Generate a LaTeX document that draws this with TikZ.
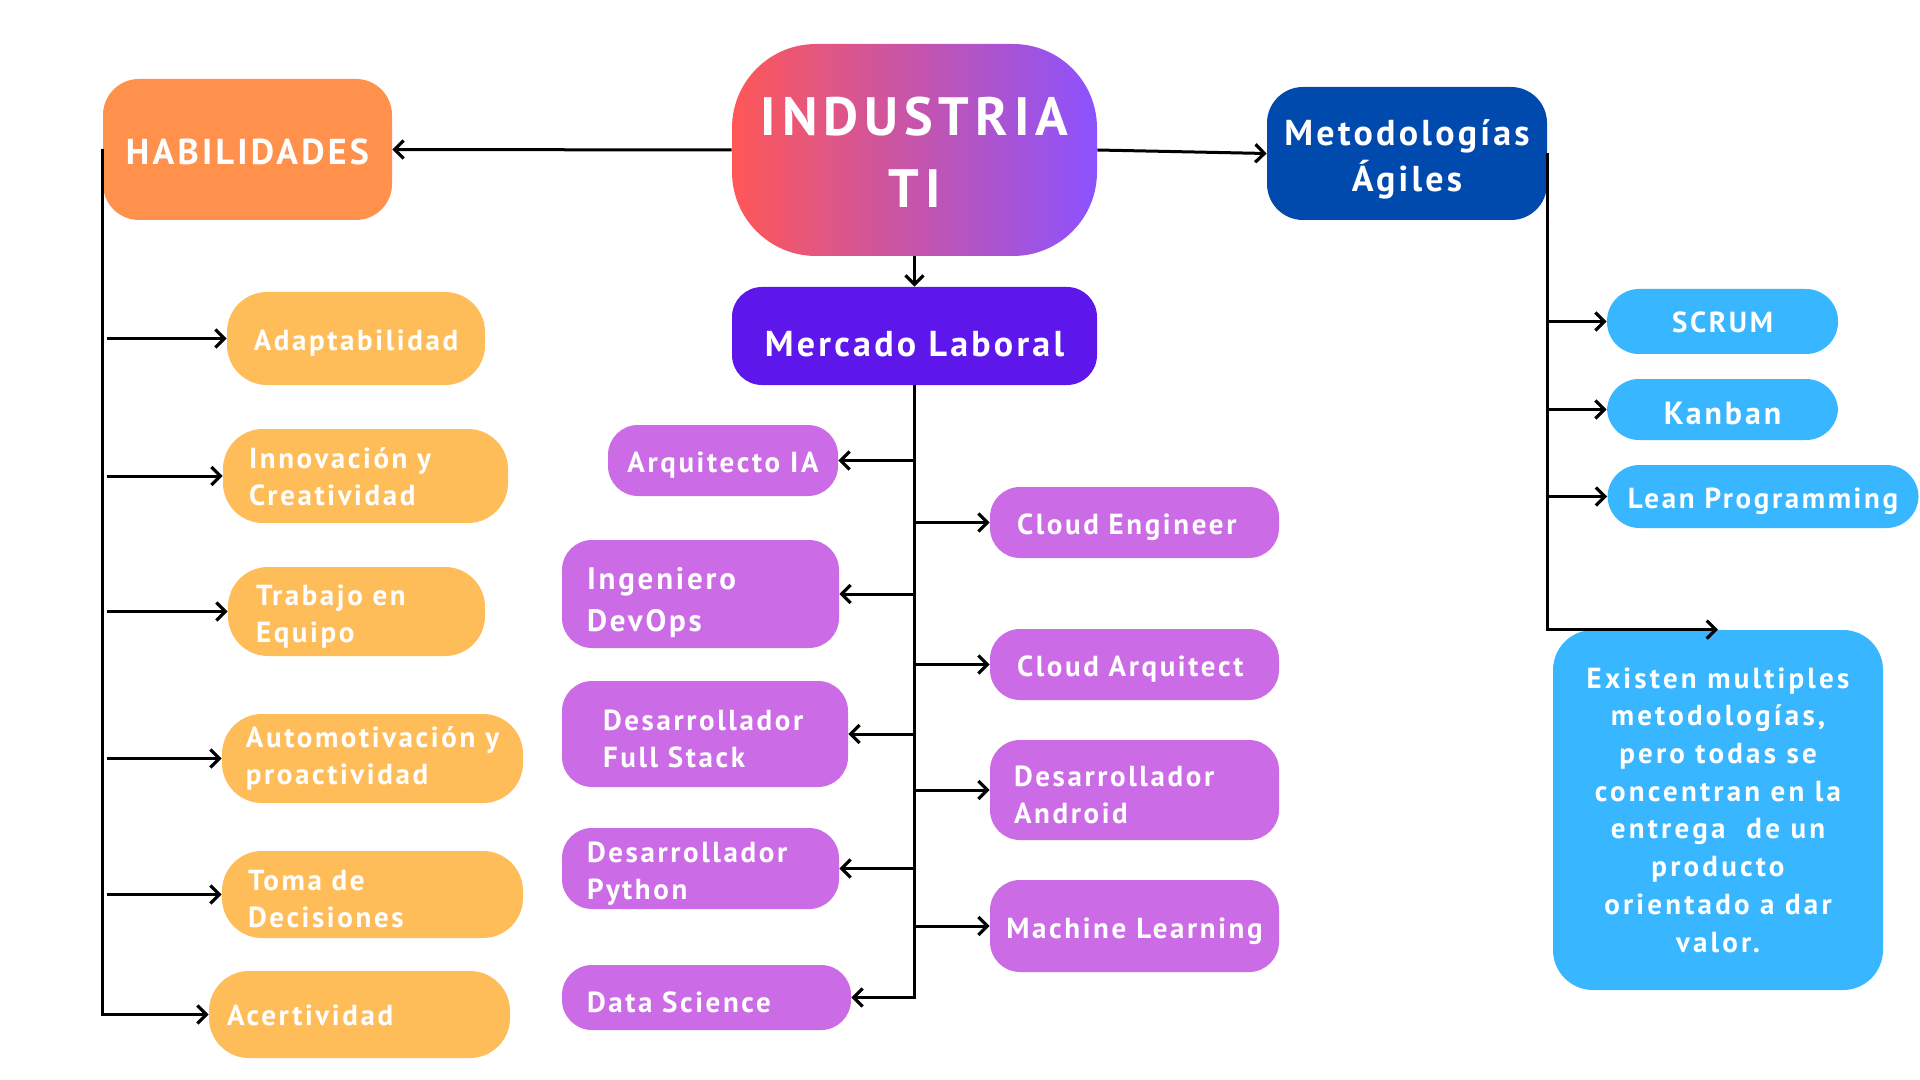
\documentclass[tikz,border=0pt]{standalone}
\usepackage{fontspec}
\setmainfont{PT Sans}[LetterSpace=9]
\usetikzlibrary{arrows.meta}
\definecolor{cHab}{HTML}{FF914D}
\definecolor{cYel}{HTML}{FFBD59}
\definecolor{cPur}{HTML}{CB6CE6}
\definecolor{cMer}{HTML}{5E17EB}
\definecolor{cMet}{HTML}{004AAD}
\definecolor{cBlu}{HTML}{38B6FF}
\definecolor{cRed}{HTML}{FF5757}
\definecolor{cVio}{HTML}{8C52FF}
\newcommand{\mainf}{\bfseries\fontsize{14.5}{18.5}\selectfont}
\newcommand{\upby}[1]{\rule[-#1]{0pt}{0pt}}
\newcommand{\downby}[1]{\rule{0pt}{#1}}
\tikzset{
  arr/.style={line width=1.5pt,-{Straight Barb[length=4.5pt,width=9pt,line width=1.6pt]}},
  st/.style={execute at begin node={\rule{0pt}{#1}}},
  box/.style={rectangle,rounded corners=#1,inner sep=0pt,text=white,font=\mainf,align=center,st=15pt},
  box/.default=15pt,
  lt/.style={align=left,text width=#1},
  yel/.style={box=20pt,fill=cYel},
  pur/.style={box=15pt,fill=cPur},
  blu/.style={box=16pt,fill=cBlu},
}
\begin{document}
\begin{tikzpicture}[x=0.5pt,y=-0.5pt]
\useasboundingbox (0,0) rectangle (1920,1080);

% main nodes
\node[box=42pt,left color=cRed,right color=cVio,minimum width=182.5pt,minimum height=106pt,
  font=\bfseries\fontsize{27}{36}\selectfont\addfontfeatures{LetterSpace=11},st=0pt] (ind) at (914.5,150) {\downby{21.5pt}INDUSTRIA\\TI};
\node[box=15pt,fill=cMer,minimum width=182.5pt,minimum height=49pt,font=\bfseries\fontsize{18}{22}\selectfont,st=21pt] (merc) at (914.5,336) {Mercado Laboral};
\node[box=18pt,fill=cHab,minimum width=144.5pt,minimum height=70.5pt,font=\bfseries\fontsize{18}{22}\selectfont,st=13pt] (hab) at (247.5,149.5) {HABILIDADES};
\node[box=18pt,fill=cMet,minimum width=140pt,minimum height=66.5pt,font=\bfseries\fontsize{18}{23}\selectfont,st=0pt] (met) at (1407,153.5) {\downby{19pt}Metodologías\\Ágiles};

% habilidades
\node[yel,minimum width=129pt,minimum height=46.5pt] (adap) at (356,338.5) {Adaptabilidad};
\node[yel,lt=116.5pt,minimum width=142.5pt,minimum height=47pt,st=0pt] (inno) at (365.5,476) {\mbox{Innovación y}\\\mbox{Creatividad}\upby{3.6pt}};
\node[yel,lt=100.5pt,minimum width=128.5pt,minimum height=44.5pt] (trab) at (356.5,611.5) {\mbox{Trabajo en}\\\mbox{Equipo}};
\node[yel,align=left,minimum width=150.5pt,minimum height=44.5pt,st=16pt] (auto) at (372.5,758.5) {Automotivación y\\proactividad};
\node[yel,lt=124.5pt,minimum width=150.5pt,minimum height=43.5pt,st=13pt] (toma) at (372.5,894.5) {\mbox{Toma de}\\\mbox{Decisiones}};
\node[yel,lt=132.5pt,minimum width=150.5pt,minimum height=43.5pt,st=0pt] (acer) at (359.5,1014.5) {\mbox{Acertividad}\upby{3.6pt}};

% mercado laboral
\node[pur,minimum width=115pt,minimum height=35.5pt] (aia) at (723,460.5) {Arquitecto IA};
\node[pur,lt=117.5pt,minimum width=144.5pt,minimum height=35.5pt] (ceng) at (1134.5,522.5) {\mbox{Cloud Engineer}};
\node[pur,lt=113.5pt,minimum width=138.5pt,minimum height=54pt,font=\bfseries\fontsize{15.5}{21}\selectfont,st=20pt] (devops) at (700.5,594) {\mbox{Ingeniero}\\\mbox{DevOps}};
\node[pur,lt=102pt,minimum width=143pt,minimum height=53pt] (fs) at (705,734) {\mbox{Desarrollador}\\\mbox{Full Stack}};
\node[pur,lt=117.5pt,minimum width=144.5pt,minimum height=35.5pt] (carq) at (1134.5,664.5) {\mbox{Cloud Arquitect}};
\node[pur,lt=120.5pt,minimum width=144.5pt,minimum height=50pt] (andr) at (1134.5,790) {\mbox{Desarrollador}\\\mbox{Android}};
\node[pur,lt=113.5pt,minimum width=138.5pt,minimum height=40.5pt] (py) at (700.5,868.5) {\mbox{Desarrollador}\\\mbox{Python}};
\node[pur,minimum width=144.5pt,minimum height=46pt,st=16pt] (ml) at (1134.5,926) {Machine Learning};
\node[pur,lt=119.5pt,minimum width=144.5pt,minimum height=32.5pt,st=13.5pt] (ds) at (706.5,997.5) {\mbox{Data Science}};

% metodologias
\node[blu,minimum width=115.5pt,minimum height=32.5pt,st=0pt] (scrum) at (1722.5,321.5) {SCRUM\upby{3.6pt}};
\node[blu,minimum width=115.5pt,minimum height=30.5pt,font=\bfseries\fontsize{16}{20}\selectfont,st=13pt] (kan) at (1722.5,409.5) {Kanban};
\node[blu,minimum width=155.5pt,minimum height=31.5pt] (lean) at (1763,496.5) {Lean Programming};
\node[box=20pt,fill=cBlu,minimum width=165pt,minimum height=180pt,
  font=\bfseries\fontsize{14.5}{18.85}\selectfont\addfontfeatures{LetterSpace=11},st=11pt] (note) at (1718,810)
  {Existen multiples\\metodologías,\\pero todas se\\concentran en la\\entrega\ \ de un\\producto\\orientado a dar\\valor.};

% connectors
\draw[arr] (ind.west) -- (hab.east);
\draw[arr] (ind.east) -- (met.west);
\draw[arr] (ind.south) -- (merc.north);

\draw[arr] (hab.west) |- (acer.west);
\foreach \n in {adap,inno,trab,auto,toma}
  \draw[arr] ([xshift=2pt]hab.west |- \n.west) -- (\n.west);

\draw[arr] (merc.south) |- (ds.east);
\foreach \n in {aia,devops,fs,py}
  \draw[arr] (merc.south |- \n.east) -- (\n.east);
\foreach \n in {ceng,carq,andr,ml}
  \draw[arr] (merc.south |- \n.west) -- (\n.west);

\draw[arr] (met.east) |- (note.north);
\foreach \n in {scrum,kan,lean}
  \draw[arr] (met.east |- \n.west) -- (\n.west);
\end{tikzpicture}
\end{document}
